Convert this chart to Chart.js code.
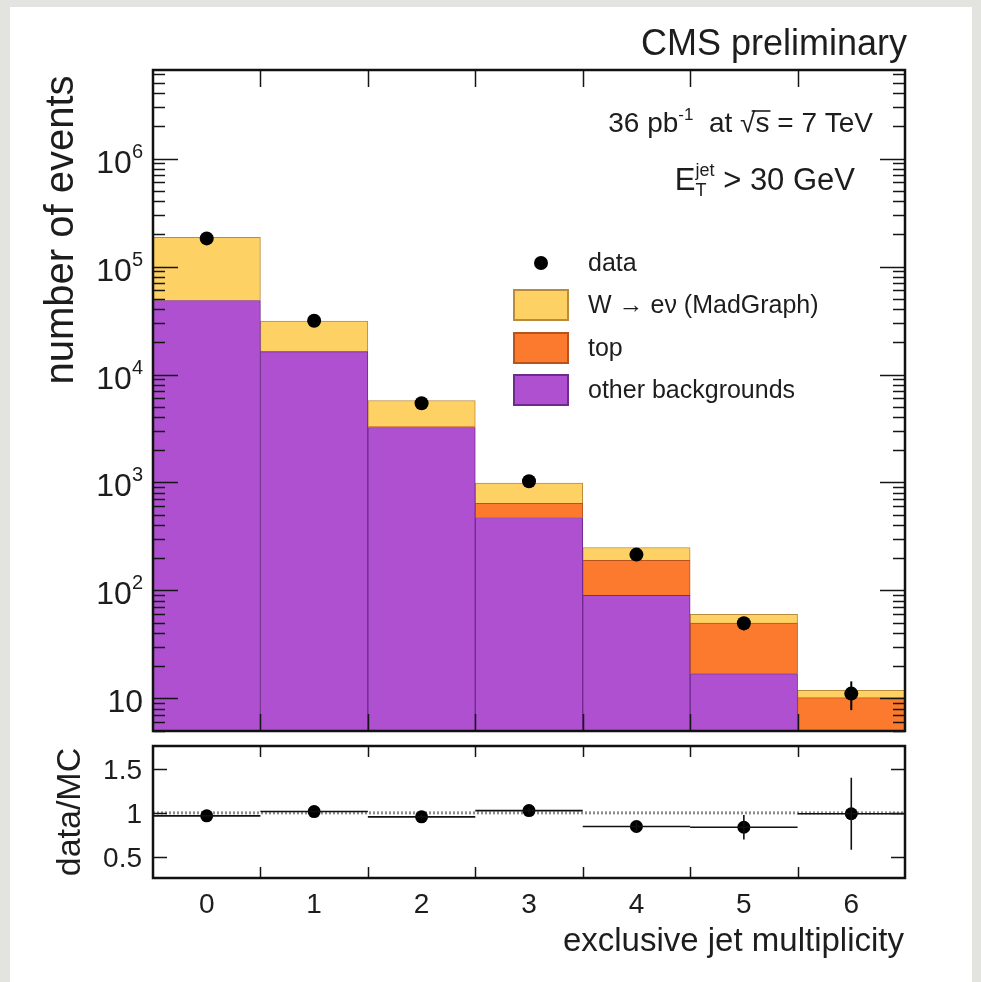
<!DOCTYPE html>
<html><head><meta charset="utf-8">
<script src="https://cdn.jsdelivr.net/npm/chart.js@4.4.1/dist/chart.umd.min.js"></script>
<style>
html,body{margin:0;padding:0;background:#e3e3df;}
#wrap{position:relative;width:981px;height:982px;overflow:hidden;}
#paper{position:absolute;left:10px;top:7px;width:962px;height:975px;background:#fff;}
canvas{position:absolute;left:0;top:0;}
</style></head><body>
<div id="wrap"><div id="paper"></div>
<canvas id="main" width="981" height="982"></canvas>
<canvas id="ratio" width="981" height="982"></canvas>
</div>
<script>
// ---- data ----
const jetBins = [0, 1, 2, 3, 4, 5, 6];
const xTickLabels = ['0', '1', '2', '3', '4', '5', '6'];
const otherBkg = [48400, 16300, 3230, 474, 90, 17, 2.2];
const topBkg = [15, 30, 60, 166, 100, 33, 8.0];
const wenu = [137600, 14870, 2450, 346, 60, 10, 1.7];
const dataCounts = [182000, 31500, 5420, 1028, 215, 49.8, 11.1];
const dataErrors = [427, 177, 74, 32, 14.7, 7.1, 3.3];
const ratioValues = [0.966, 1.015, 0.955, 1.026, 0.845, 0.837, 0.99];
const ratioErrors = [0.004, 0.01, 0.02, 0.035, 0.06, 0.14, 0.41];
const mainYTickExponents = [1, 2, 3, 4, 5, 6];
const ratioYTicks = [0.5, 1, 1.5];
const ratioReference = 1;
const seriesLabels = ['data', 'W \u2192 e\u03BD (MadGraph)', 'top', 'other backgrounds'];

const FONT = '"Liberation Sans", Arial, Helvetica, sans-serif';
const INK = '#1d1d1d';
const COLORS = {
  w: {fill: '#fdd163', edge: '#b98b3c'},
  top: {fill: '#fb7a2e', edge: '#b9531d'},
  other: {fill: '#ae50cf', edge: '#6e2a8c'}
};
function font(px) { return px + 'px ' + FONT; }

function drawRuns(ctx, runs, rightX, baseline) {
  let total = 0;
  runs.forEach(r => { ctx.font = font(r.size); r.w = ctx.measureText(r.t).width; total += r.w; });
  let xx = rightX - total;
  runs.forEach(r => { ctx.font = font(r.size); ctx.fillText(r.t, xx, baseline + (r.dy || 0)); r.x = xx; xx += r.w; });
  return runs;
}

const mainDecor = {
  id: 'mainDecor',
  afterDatasetsDraw(chart) {
    const {ctx, chartArea: a, scales: {x, y}} = chart;
    ctx.save();
    ctx.beginPath(); ctx.rect(a.left, a.top, a.right - a.left, a.bottom - a.top); ctx.clip();
    ctx.strokeStyle = '#000'; ctx.lineWidth = 2;
    dataCounts.forEach((v, i) => {
      const px = x.getPixelForValue(jetBins[i]);
      ctx.beginPath();
      ctx.moveTo(px, y.getPixelForValue(v - dataErrors[i]));
      ctx.lineTo(px, y.getPixelForValue(v + dataErrors[i]));
      ctx.stroke();
    });
    ctx.restore();
  },
  afterDraw(chart) {
    const {ctx, chartArea: a, scales: {x, y}} = chart;
    ctx.save();
    // ticks
    ctx.strokeStyle = '#151515'; ctx.lineWidth = 1.5;
    for (let e = 0; e <= 6; e++) {
      for (let m = 1; m <= 9; m++) {
        const v = m * Math.pow(10, e);
        if (v < y.min || v > y.max) continue;
        const py = Math.round(y.getPixelForValue(v)) + 0.5;
        const len = m === 1 ? 25 : 12;
        ctx.beginPath();
        ctx.moveTo(a.left, py); ctx.lineTo(a.left + len, py);
        ctx.moveTo(a.right, py); ctx.lineTo(a.right - len, py);
        ctx.stroke();
      }
    }
    for (let k = 0; k < jetBins.length - 1; k++) {
      const px = Math.round(x.getPixelForValue(jetBins[k] + 0.5)) + 0.5;
      ctx.beginPath();
      ctx.moveTo(px, a.top); ctx.lineTo(px, a.top + 17);
      ctx.moveTo(px, a.bottom); ctx.lineTo(px, a.bottom - 17);
      ctx.stroke();
    }
    // frame
    ctx.lineWidth = 2.5; ctx.strokeStyle = '#111';
    ctx.strokeRect(a.left, a.top, a.right - a.left, a.bottom - a.top);
    // y tick labels
    ctx.fillStyle = INK; ctx.textAlign = 'left'; ctx.textBaseline = 'alphabetic';
    mainYTickExponents.forEach(e => {
      const py = y.getPixelForValue(Math.pow(10, e));
      const sup = e === 1 ? '' : String(e);
      ctx.font = font(32); const wb = ctx.measureText('10').width;
      ctx.font = font(20); const ws = sup ? ctx.measureText(sup).width : 0;
      const right = a.left - 10;
      ctx.font = font(32); ctx.fillText('10', right - ws - wb, py + 14);
      if (sup) { ctx.font = font(20); ctx.fillText(sup, right - ws, py - 1); }
    });
    // y title
    ctx.save();
    ctx.translate(73, 230); ctx.rotate(-Math.PI / 2);
    ctx.textAlign = 'center'; ctx.font = font(40);
    ctx.fillText('number of events', 0, 0);
    ctx.restore();
    // header
    ctx.textAlign = 'right'; ctx.font = font(36);
    ctx.fillText('CMS preliminary', 907, 55);
    ctx.textAlign = 'left';
    const runs = drawRuns(ctx, [
      {t: '36 pb', size: 28}, {t: '-1', size: 17, dy: -12}, {t: '  at ', size: 28},
      {t: '\u221A', size: 28}, {t: 's', size: 28}, {t: ' = 7 TeV', size: 28}
    ], 873, 132);
    ctx.lineWidth = 1.6; ctx.strokeStyle = INK;
    ctx.beginPath();
    ctx.moveTo(runs[3].x + runs[3].w * 0.75, 132 - 21);
    ctx.lineTo(runs[4].x + runs[4].w + 1, 132 - 21);
    ctx.stroke();
    // E_T^jet > 30 GeV
    ctx.font = font(31); const wE = ctx.measureText('E').width;
    ctx.font = font(18); const wT = ctx.measureText('T').width; const wJ = ctx.measureText('jet').width;
    ctx.font = font(31); const wR = ctx.measureText(' > 30 GeV').width;
    let ex = 855 - wR - Math.max(wT, wJ) - wE;
    ctx.font = font(31); ctx.fillText('E', ex, 190);
    ctx.font = font(18); ctx.fillText('T', ex + wE, 196); ctx.fillText('jet', ex + wE, 176);
    ctx.font = font(31); ctx.fillText(' > 30 GeV', ex + wE + Math.max(wT, wJ), 190);
    // legend
    const rowsY = [263, 305, 348, 390];
    const boxes = [null, COLORS.w, COLORS.top, COLORS.other];
    ctx.textBaseline = 'middle'; ctx.font = font(25);
    seriesLabels.forEach((lab, i) => {
      const cy = rowsY[i];
      if (i === 0) {
        ctx.beginPath(); ctx.arc(541, cy, 7, 0, Math.PI * 2); ctx.fillStyle = '#000'; ctx.fill();
      } else {
        ctx.fillStyle = boxes[i].fill; ctx.fillRect(514, cy - 15, 54, 30);
        ctx.strokeStyle = boxes[i].edge; ctx.lineWidth = 2; ctx.strokeRect(514, cy - 15, 54, 30);
      }
      ctx.fillStyle = INK; ctx.fillText(lab, 588, cy + 1);
    });
    ctx.restore();
  }
};

const ratioDecor = {
  id: 'ratioDecor',
  afterDatasetsDraw(chart) {
    const {ctx, chartArea: a, scales: {x, y}} = chart;
    ctx.save();
    ctx.beginPath(); ctx.rect(a.left, a.top, a.right - a.left, a.bottom - a.top); ctx.clip();
    ctx.strokeStyle = '#111'; ctx.lineWidth = 1.6;
    ratioValues.forEach((v, i) => {
      const px = x.getPixelForValue(jetBins[i]);
      const py = y.getPixelForValue(v);
      ctx.beginPath();
      ctx.moveTo(x.getPixelForValue(jetBins[i] - 0.5), py);
      ctx.lineTo(x.getPixelForValue(jetBins[i] + 0.5), py);
      ctx.moveTo(px, y.getPixelForValue(v - ratioErrors[i]));
      ctx.lineTo(px, y.getPixelForValue(v + ratioErrors[i]));
      ctx.stroke();
    });
    ctx.restore();
  },
  afterDraw(chart) {
    const {ctx, chartArea: a, scales: {x, y}} = chart;
    ctx.save();
    ctx.strokeStyle = '#151515'; ctx.lineWidth = 1.5;
    for (let k = 0; k < jetBins.length - 1; k++) {
      const px = Math.round(x.getPixelForValue(jetBins[k] + 0.5)) + 0.5;
      ctx.beginPath();
      ctx.moveTo(px, a.top); ctx.lineTo(px, a.top + 11);
      ctx.moveTo(px, a.bottom); ctx.lineTo(px, a.bottom - 11);
      ctx.stroke();
    }
    ratioYTicks.forEach(t => {
      const py = Math.round(y.getPixelForValue(t)) + 0.5;
      ctx.beginPath();
      ctx.moveTo(a.left, py); ctx.lineTo(a.left + 14, py);
      ctx.moveTo(a.right, py); ctx.lineTo(a.right - 14, py);
      ctx.stroke();
    });
    ctx.lineWidth = 2.5; ctx.strokeStyle = '#111';
    ctx.strokeRect(a.left, a.top, a.right - a.left, a.bottom - a.top);
    ctx.fillStyle = INK;
    ctx.font = font(28); ctx.textBaseline = 'alphabetic';
    ctx.textAlign = 'right';
    ratioYTicks.forEach(t => {
      ctx.fillText(String(t), a.left - 11, y.getPixelForValue(t) + 10);
    });
    ctx.textAlign = 'center';
    xTickLabels.forEach((lab, i) => {
      ctx.fillText(lab, x.getPixelForValue(jetBins[i]), 913);
    });
    ctx.textAlign = 'right'; ctx.font = font(33);
    ctx.fillText('exclusive jet multiplicity', a.right - 1, 951);
    ctx.save();
    ctx.translate(80, 812); ctx.rotate(-Math.PI / 2);
    ctx.textAlign = 'center'; ctx.font = font(34);
    ctx.fillText('data/MC', 0, 0);
    ctx.restore();
    ctx.restore();
  }
};

const pts = arr => jetBins.map((b, i) => ({x: b, y: arr[i]}));

new Chart(document.getElementById('main'), {
  type: 'bar',
  data: {
    labels: xTickLabels,
    datasets: [
      {type: 'line', label: seriesLabels[0], data: dataCounts, stack: 'data', showLine: false,
       pointRadius: 7, pointBackgroundColor: '#000', pointBorderWidth: 0, order: 0},
      {label: seriesLabels[3], data: otherBkg, stack: 'mc', order: 1,
       backgroundColor: COLORS.other.fill, borderColor: COLORS.other.edge, borderWidth: 1},
      {label: seriesLabels[2], data: topBkg, stack: 'mc', order: 1,
       backgroundColor: COLORS.top.fill, borderColor: COLORS.top.edge, borderWidth: 1},
      {label: seriesLabels[1], data: wenu, stack: 'mc', order: 1,
       backgroundColor: COLORS.w.fill, borderColor: COLORS.w.edge, borderWidth: 1}
    ]
  },
  options: {
    responsive: false, animation: false, devicePixelRatio: 1,
    layout: {padding: {left: 153, right: 76, top: 70, bottom: 251}},
    datasets: {bar: {barPercentage: 1, categoryPercentage: 1}},
    plugins: {legend: {display: false}, tooltip: {enabled: false}},
    scales: {
      x: {type: 'category', offset: true, display: false, stacked: true},
      y: {type: 'logarithmic', min: 5, max: 6.6e6, display: false, stacked: true}
    }
  },
  plugins: [mainDecor]
});

new Chart(document.getElementById('ratio'), {
  type: 'scatter',
  data: {
    datasets: [
      {type: 'scatter', data: pts(ratioValues), pointRadius: 6.5, pointBackgroundColor: '#000',
       pointBorderWidth: 0, order: 0},
      {type: 'line', data: [{x: -0.5, y: ratioReference}, {x: 6.5, y: ratioReference}],
       borderColor: '#8c8c8c', borderWidth: 3, borderDash: [2, 2], pointRadius: 0, order: 1}
    ]
  },
  options: {
    responsive: false, animation: false, devicePixelRatio: 1,
    layout: {padding: {left: 153, right: 76, top: 746, bottom: 104}},
    plugins: {legend: {display: false}, tooltip: {enabled: false}},
    scales: {
      x: {type: 'linear', min: -0.5, max: 6.5, display: false},
      y: {type: 'linear', min: 0.26, max: 1.76, display: false}
    }
  },
  plugins: [ratioDecor]
});
</script>
</body></html>
